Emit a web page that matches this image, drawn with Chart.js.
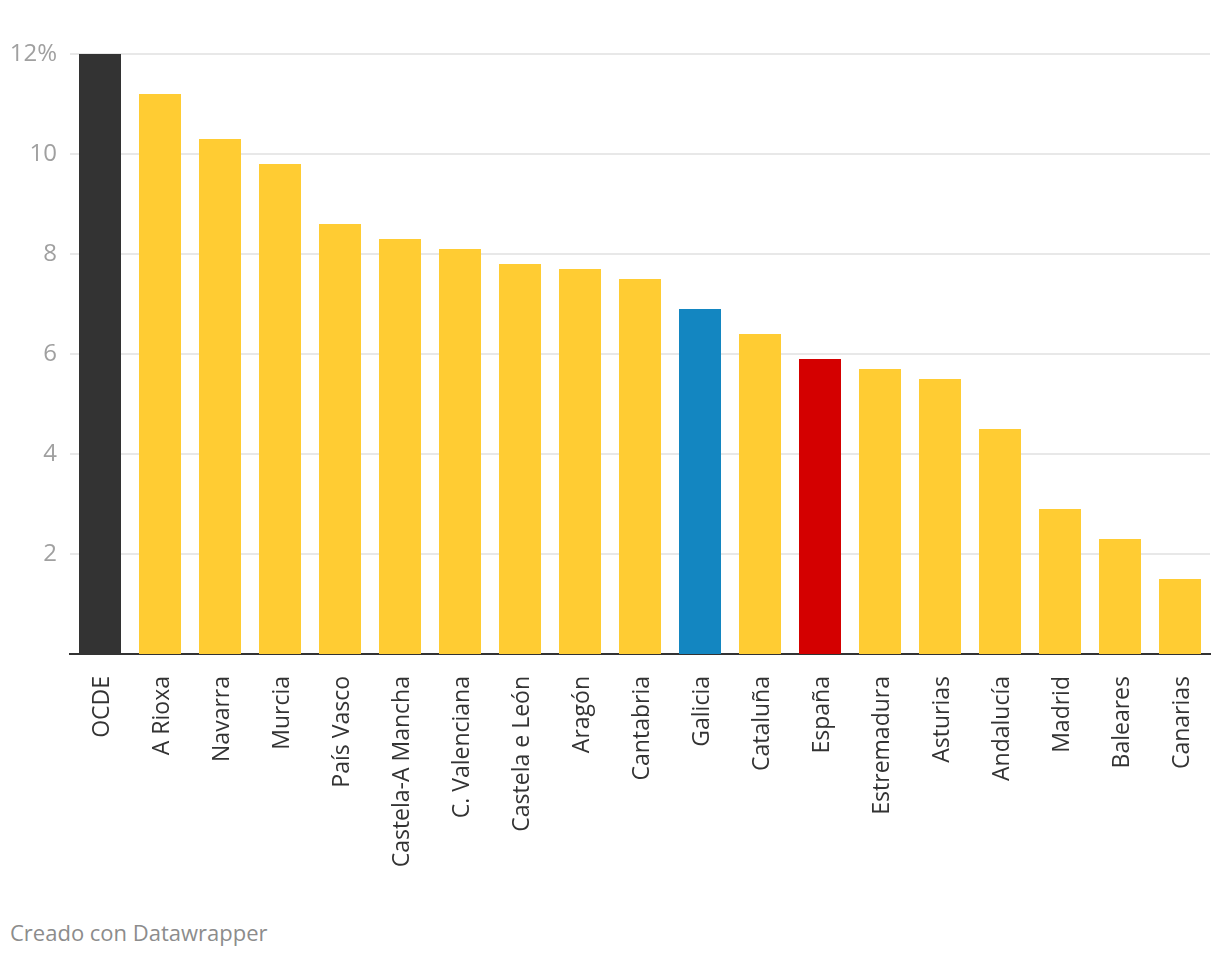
<!DOCTYPE html>
<html>
<head>
<meta charset="utf-8">
<script src="https://cdn.jsdelivr.net/npm/chart.js@4/dist/chart.umd.min.js"></script>
<style>
  html, body { margin: 0; padding: 0; background: #fff; }
  #wrap { position: relative; width: 1220px; height: 956px; }
  #c { position: absolute; left: 0; top: 0; }
  #footer { position: absolute; left: 10px; top: 917px; font-family: "Open Sans", sans-serif; font-size: 22px; color: #8c8c8c; white-space: nowrap; }
</style>
</head>
<body>
<div id="wrap">
  <canvas id="c" width="1220" height="900"></canvas>
  <div id="footer">Creado con Datawrapper</div>
</div>
<script>
const categories = ["OCDE", "A Rioxa", "Navarra", "Murcia", "País Vasco", "Castela-A Mancha", "C. Valenciana", "Castela e León", "Aragón", "Cantabria", "Galicia", "Cataluña", "España", "Estremadura", "Asturias", "Andalucía", "Madrid", "Baleares", "Canarias"];
const values = [12, 11.2, 10.3, 9.8, 8.6, 8.3, 8.1, 7.8, 7.7, 7.5, 6.9, 6.4, 5.9, 5.7, 5.5, 4.5, 2.9, 2.3, 1.5];
const yTicks = [2, 4, 6, 8, 10, 12];

const highlight = { "OCDE": "#333333", "Galicia": "#1386c1", "España": "#d40000" };
const barColors = categories.map(c => highlight[c] || "#ffcc33");

const fixArea = {
  id: "fixArea",
  afterLayout(chart) {
    // nothing: layout handled through afterFit
  }
};

new Chart(document.getElementById("c"), {
  type: "bar",
  data: {
    labels: categories,
    datasets: [{
      data: values,
      backgroundColor: barColors,
      borderWidth: 0,
      barPercentage: 0.7,
      categoryPercentage: 1.0
    }]
  },
  options: {
    responsive: false,
    animation: false,
    layout: { padding: { top: 54, right: 10, left: 0, bottom: 0 } },
    plugins: { legend: { display: false }, tooltip: { enabled: false } },
    scales: {
      x: {
        grid: { display: false },
        border: { display: true, color: "#333333", width: 2 },
        ticks: {
          minRotation: 90, maxRotation: 90, autoSkip: false, padding: 14,
          labelOffset: 2,
          color: "#333333",
          font: { family: "'Open Sans', sans-serif", size: 23 }
        },
        afterFit: s => { s.height = 246; s.paddingRight = 0; s.paddingLeft = 0; }
      },
      y: {
        min: 0, max: 12,
        afterBuildTicks: s => { s.ticks = yTicks.map(v => ({ value: v })); },
        grid: {
          drawTicks: false,
          color: "#e8e8e8",
          lineWidth: 2
        },
        border: { display: false },
        ticks: {
          padding: 13,
          color: "#a0a0a0",
          font: { family: "'Open Sans', sans-serif", size: 24 },
          callback: v => v === 12 ? "12%" : String(v)
        },
        afterFit: s => { s.width = 70; }
      }
    }
  }
});
</script>
</body>
</html>
